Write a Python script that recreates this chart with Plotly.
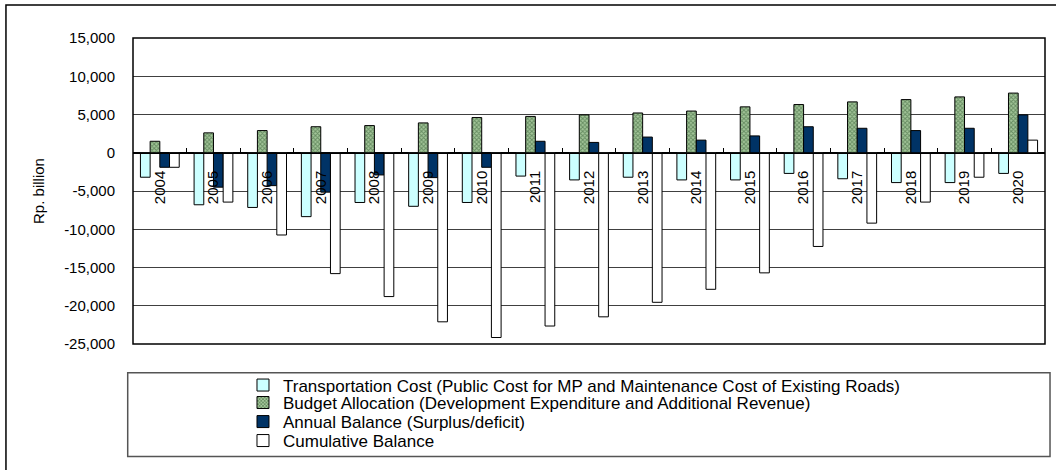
import plotly.graph_objects as go

years = [str(y) for y in range(2004, 2021)]

transport = [-3200, -6800, -7150, -8350, -6500, -7000, -6500, -3050, -3550,
             -3200, -3550, -3550, -2700, -3400, -3900, -3900, -2700]
budget = [1500, 2600, 2900, 3400, 3550, 3900, 4600, 4750, 4950,
          5200, 5450, 6000, 6300, 6650, 6950, 7300, 7800]
annual = [-1900, -4500, -4300, -5150, -2900, -3250, -1900, 1500, 1350,
          2050, 1650, 2200, 3400, 3200, 2900, 3200, 4950]
cumulative = [-1900, -6450, -10750, -15800, -18800, -22100, -24150, -22650, -21450,
              -19550, -17850, -15700, -12250, -9200, -6450, -3200, 1650]

ytick_vals = [15000, 10000, 5000, 0, -5000, -10000, -15000, -20000, -25000]
ytick_text = ["15,000", "10,000", "5,000", "0", "-5,000", "-10,000",
              "-15,000", "-20,000", "-25,000"]
y_title = "Rp. billion"

names = [
    "Transportation Cost (Public Cost for MP and Maintenance Cost of Existing Roads)",
    "Budget Allocation (Development Expenditure and Additional Revenue)",
    "Annual Balance (Surplus/deficit)",
    "Cumulative Balance",
]

FONT = "Liberation Sans, Arial, sans-serif"
line = dict(color="black", width=1)

fig = go.Figure()
fig.add_trace(go.Bar(x=years, y=transport, name=names[0], legend="legend",
                     marker=dict(color="#CCFFFF", line=line)))
fig.add_trace(go.Bar(x=years, y=budget, name=names[1], legend="legend2",
                     marker=dict(color="#88AD80", line=line,
                                 pattern=dict(shape="x", size=3, solidity=0.55,
                                              fgcolor="#2A552A", bgcolor="#A4C69A"))))
fig.add_trace(go.Bar(x=years, y=annual, name=names[2], legend="legend3",
                     marker=dict(color="#003366", line=line)))
fig.add_trace(go.Bar(x=years, y=cumulative, name=names[3], legend="legend4",
                     marker=dict(color="#FFFFFF", line=line)))

def leg(yc):
    return dict(x=0.2301, xanchor="left", xref="container",
                y=yc, yanchor="middle", yref="container",
                bgcolor="rgba(0,0,0,0)", borderwidth=0,
                font=dict(family=FONT, size=17, color="black"))

fig.update_layout(
    width=1056, height=470,
    margin=dict(l=133, r=11, t=38, b=126, autoexpand=False),
    paper_bgcolor="white", plot_bgcolor="white",
    font=dict(family=FONT, size=15, color="black"),
    barmode="group", bargap=0.277, bargroupgap=0,
    showlegend=True,
    legend=leg(0.1798), legend2=leg(0.1426), legend3=leg(0.1021), legend4=leg(0.0617),
    xaxis=dict(type="category", anchor="free", position=0.625,
               showline=True, linecolor="black", linewidth=1,
               ticks="inside", ticklen=5, tickcolor="black", tickson="boundaries",
               tickangle=-90, ticklabelstandoff=11, showgrid=False,
               tickfont=dict(family=FONT, size=15, color="black")),
    yaxis=dict(range=[-25000, 15000], tickvals=ytick_vals, ticktext=ytick_text,
               showgrid=True, gridcolor="#404040", gridwidth=1,
               zeroline=True, zerolinecolor="black", zerolinewidth=1,
               ticks="", ticklabelstandoff=17,
               tickfont=dict(family=FONT, size=15, color="black")),
    annotations=[
        dict(text=y_title, textangle=-90, xref="paper", yref="paper",
             x=-0.1042, y=0.5, xanchor="center", yanchor="middle",
             showarrow=False, font=dict(family=FONT, size=15, color="black")),
    ],
    shapes=[
        dict(type="rect", xref="paper", yref="paper", x0=0, x1=1, y0=0, y1=1,
             line=dict(color="black", width=1.5), fillcolor="rgba(0,0,0,0)"),
        dict(type="rect", xref="paper", yref="paper", x0=-0.0058, x1=1.0055,
             y0=-0.368, y1=-0.0938, line=dict(color="#555555", width=1.5),
             fillcolor="rgba(0,0,0,0)"),
        dict(type="rect", xref="paper", yref="paper", x0=-0.1393, x1=1.03,
             y0=-0.45, y1=1.1078, line=dict(color="black", width=1.5),
             fillcolor="rgba(0,0,0,0)"),
    ],
)

fig.write_html("out.html")
